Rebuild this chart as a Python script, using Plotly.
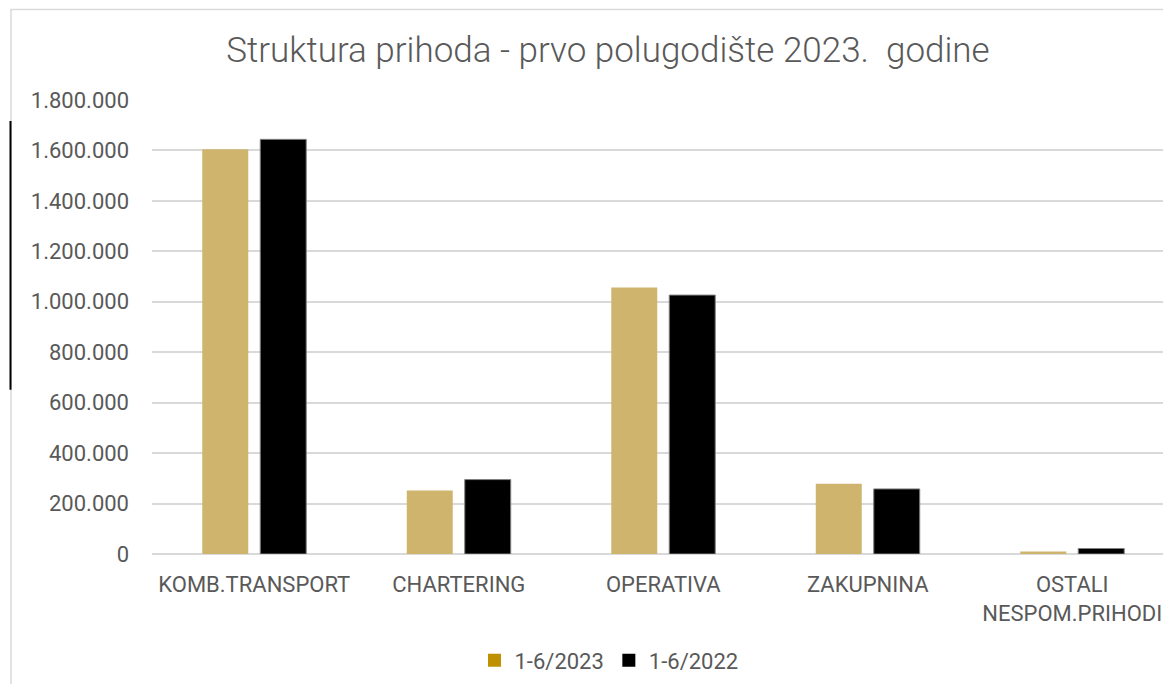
import plotly.graph_objects as go

categories = ["KOMB.TRANSPORT", "CHARTERING", "OPERATIVA", "ZAKUPNINA", "OSTALI<br>NESPOM.PRIHODI"]
series_2023 = [1605000, 251500, 1056500, 279000, 10000]
series_2022 = [1644000, 295000, 1026500, 258000, 21800]
tick_vals = [0, 200000, 400000, 600000, 800000, 1000000, 1200000, 1400000, 1600000, 1800000]
title_text = "Struktura prihoda - prvo polugodište 2023.  godine"
name_2023 = "1-6/2023"
name_2022 = "1-6/2022"

W, H = 1163, 684
L, R, T, B = 152, 0, 100, 129.5
pw = W - L - R
ph = H - T - B

def px_x(x):
    return (x - L) / pw

def px_y(y):
    return (H - B - y) / ph

fig = go.Figure()
fig.add_trace(go.Bar(x=categories, y=series_2023, name=name_2023,
                     marker=dict(color="#CFB46E", line=dict(width=0)),
                     showlegend=False, hoverinfo="skip"))
fig.add_trace(go.Bar(x=categories, y=series_2022, name=name_2022,
                     marker=dict(color="#000000", line=dict(color="#7F7F7F", width=1)),
                     showlegend=False, hoverinfo="skip"))
# legend entries (swatch colours as in the original legend)
fig.add_trace(go.Scatter(x=[None], y=[None], mode="markers", name=name_2023,
                         marker=dict(symbol="square", size=13, color="#BF9000"),
                         hoverinfo="skip"))
fig.add_trace(go.Scatter(x=[None], y=[None], mode="markers", name=name_2022,
                         marker=dict(symbol="square", size=13, color="#000000"),
                         hoverinfo="skip"))

fig.update_layout(
    width=W, height=H,
    margin=dict(l=L, r=R, t=T, b=B, autoexpand=False),
    paper_bgcolor="white", plot_bgcolor="white",
    separators=",.",
    barmode="group", bargap=0.433, bargroupgap=0.207,
    font=dict(family="Roboto", color="#595959", size=22),
    title=dict(text=title_text, x=px_x(608), xref="paper", xanchor="center",
               y=1 - 50 / H, yref="container", yanchor="middle",
               font=dict(family="Roboto", size=35, color="#595959", weight=300)),
    showlegend=True,
    legend=dict(orientation="h", x=px_x(609), xanchor="center",
                y=px_y(661), yanchor="middle",
                font=dict(family="Roboto", size=22, color="#595959"),
                itemwidth=30, bgcolor="rgba(0,0,0,0)"),
    xaxis=dict(range=[-0.5, -0.5 + pw / 204.5], showgrid=False, showline=False,
               ticks="", ticklabelstandoff=15, fixedrange=True,
               tickfont=dict(family="Roboto", size=22, color="#595959")),
    yaxis=dict(range=[0, 1800000], tickvals=tick_vals, tickformat=",d",
               showgrid=True, gridcolor="#D9D9D9", gridwidth=1.5,
               zeroline=True, zerolinecolor="#D9D9D9", zerolinewidth=1.5,
               showline=False, ticks="", ticklabelstandoff=22, fixedrange=True,
               tickfont=dict(family="Roboto", size=22, color="#595959")),
)

# chart area border
fig.add_shape(type="rect", xref="paper", yref="paper",
              x0=px_x(11), x1=px_x(1200), y0=px_y(720), y1=px_y(9.5),
              line=dict(color="#D9D9D9", width=1.5), fillcolor="rgba(0,0,0,0)", layer="below")
# black vertical mark at left edge
fig.add_shape(type="line", xref="paper", yref="paper",
              x0=px_x(10.5), x1=px_x(10.5), y0=px_y(390), y1=px_y(121),
              line=dict(color="#000000", width=2))

fig.write_html("out.html", config={"displayModeBar": False},
               post_script="document.body.style.margin='0';document.body.style.overflow='hidden';")
